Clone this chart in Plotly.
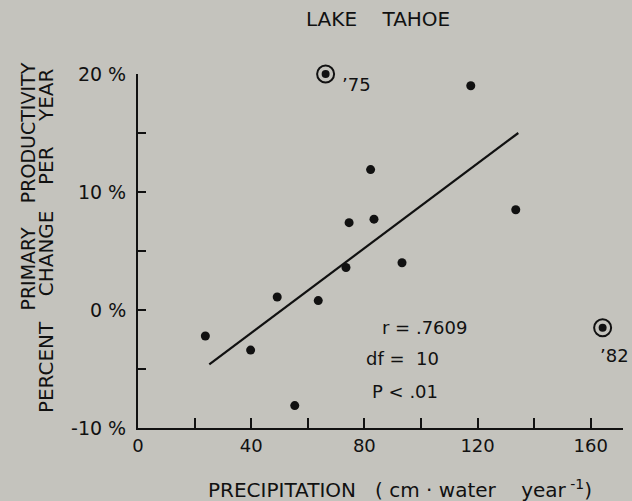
import plotly.graph_objects as go

# regular years
precip = [23.8, 39.8, 49.2, 55.4, 63.7, 73.5, 74.6, 82.2, 83.4, 93.3, 117.6, 133.5]
change = [-2.2, -3.4, 1.1, -8.1, 0.8, 3.6, 7.4, 11.9, 7.7, 4.0, 19.0, 8.5]

# circled (excluded) years
out_years = ["\u201975", "\u201982"]
out_precip = [66.3, 164.2]
out_change = [20.0, -1.5]

# regression line end points
fit_x = [25.2, 134.4]
fit_y = [-4.6, 15.0]

stats = ["r = .7609", "df =\u00a0 10", "P < .01"]
stats_x = [101.4, 93.3, 94.3]
stats_y = [-1.5, -4.1, -6.9]

x_ticks = [0, 20, 40, 60, 80, 100, 120, 140, 160]
x_text = ["0", "", "40", "", "80", "", "120", "", "160"]
y_ticks = [-10, -5, 0, 5, 10, 15, 20]
y_text = ["-10 %", "", "0 %", "", "10 %", "", "20 %"]

bg = "#c4c3bd"
ink = "#111111"
font = "DejaVu Sans"


def gap(n):
    # run of non-breaking spaces for the wide lettering gaps
    return "\u00a0" * n


fig = go.Figure()
fig.add_trace(go.Scatter(x=fit_x, y=fit_y, mode="lines",
                         line=dict(color=ink, width=2.2), cliponaxis=False))
fig.add_trace(go.Scatter(x=precip, y=change, mode="markers",
                         marker=dict(color=ink, size=9), cliponaxis=False))
fig.add_trace(go.Scatter(x=out_precip, y=out_change, mode="markers",
                         marker=dict(color=ink, size=17, symbol="circle-open",
                                     line=dict(color=ink, width=2)), cliponaxis=False))
fig.add_trace(go.Scatter(x=out_precip, y=out_change, mode="markers",
                         marker=dict(color=ink, size=8), cliponaxis=False))

# year labels next to circled points
fig.add_annotation(x=out_precip[0], y=out_change[0], text=out_years[0],
                   showarrow=False, xanchor="left", xshift=14, yshift=-10,
                   font=dict(size=18, color=ink, family=font))
fig.add_annotation(x=out_precip[1], y=out_change[1], text=out_years[1],
                   showarrow=False, xanchor="center", xshift=12, yshift=-28,
                   font=dict(size=18, color=ink, family=font))

for t, sx, sy in zip(stats, stats_x, stats_y):
    fig.add_annotation(x=sx, y=sy, text=t, showarrow=False, xanchor="center",
                       font=dict(size=18, color=ink, family=font))

# titles
fig.add_annotation(xref="paper", yref="paper", x=0.494, xanchor="center",
                   y=1.154, yanchor="middle",
                   text="LAKE" + gap(4) + "TAHOE", showarrow=False,
                   font=dict(size=20, color=ink, family=font))
fig.add_annotation(xref="paper", yref="paper", x=0.54, xanchor="center",
                   y=-0.172, yanchor="middle",
                   text="PRECIPITATION" + gap(3) + "( cm \u00b7 water" + gap(4)
                        + "year<sup> -1</sup>)",
                   showarrow=False, font=dict(size=20, color=ink, family=font))
fig.add_annotation(xref="paper", yref="paper", x=0, xanchor="center", xshift=-110,
                   y=0.682, yanchor="middle", textangle=-90,
                   text="PRIMARY" + gap(4) + "PRODUCTIVITY", showarrow=False,
                   font=dict(size=19, color=ink, family=font))
fig.add_annotation(xref="paper", yref="paper", x=0, xanchor="center", xshift=-92,
                   y=0.528, yanchor="middle", textangle=-90,
                   text="PERCENT" + gap(4) + "CHANGE" + gap(4) + "PER" + gap(4) + "YEAR",
                   showarrow=False, font=dict(size=20, color=ink, family=font))

fig.update_layout(
    width=632, height=501,
    margin=dict(l=138, r=9, t=74, b=73),
    paper_bgcolor=bg, plot_bgcolor=bg,
    showlegend=False,
    font=dict(family=font, size=18, color=ink),
    xaxis=dict(range=[0, 171.4], showgrid=False, zeroline=False,
               showline=True, linecolor=ink, linewidth=2,
               ticks="inside", ticklen=10, tickwidth=2, tickcolor=ink,
               tickvals=x_ticks, ticktext=x_text),
    yaxis=dict(range=[-10, 20], showgrid=False, zeroline=False,
               showline=True, linecolor=ink, linewidth=2,
               ticks="inside", ticklen=8, tickwidth=2, tickcolor=ink,
               tickvals=y_ticks, ticktext=y_text, ticklabelstandoff=6,
               tickfont=dict(size=19)),
)

fig.write_html("out.html", config={"displayModeBar": False},
               post_script="document.body.style.margin='0';"
                           "document.body.style.background='#c4c3bd';")
